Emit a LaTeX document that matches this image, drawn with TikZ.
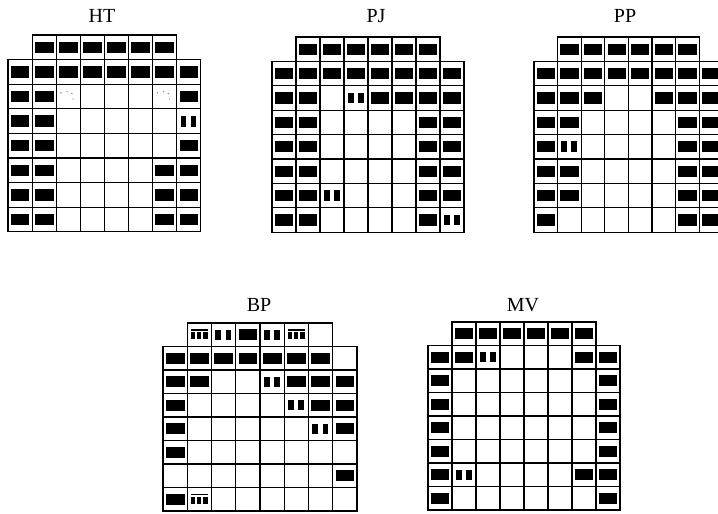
\documentclass[tikz,border=0pt]{standalone}
\usepackage{fontspec}
\setmainfont{Liberation Serif}
\tikzset{
  cellbox/.style={draw=black, line width=1.15pt},
  ink/.style={fill=black},
  faintink/.style={fill=black!45},
  paneltitle/.style={font=\fontsize{20}{20}\selectfont, inner sep=0pt, anchor=center}
}
% grid: 6 cells on top (columns 2..7), then 7 rows of 8 cells
\newcommand\gridcells{%
  \foreach \c in {2,...,7} \draw[cellbox] (\c-1,0) rectangle (\c,1);
  \foreach \r in {1,...,7} \foreach \c in {1,...,8} \draw[cellbox] (\c-1,\r) rectangle (\c,\r+1);
}
\newcommand\fullc[2]{\fill[ink] (#1-0.88,#2+0.27) rectangle (#1-0.11,#2+0.73);}
\newcommand\barsc[2]{\fill[ink] (#1-0.84,#2+0.28) rectangle (#1-0.60,#2+0.72);
  \fill[ink] (#1-0.42,#2+0.28) rectangle (#1-0.18,#2+0.72);}
\newcommand\texc[2]{\fill[ink] (#1-0.86,#2+0.26) rectangle (#1-0.14,#2+0.32);
  \fill[ink] (#1-0.86,#2+0.40) rectangle (#1-0.66,#2+0.70);
  \fill[ink] (#1-0.60,#2+0.40) rectangle (#1-0.42,#2+0.70);
  \fill[ink] (#1-0.36,#2+0.40) rectangle (#1-0.16,#2+0.70);}
\newcommand\faintc[2]{\fill[faintink] (#1-0.80,#2+0.35) circle (0.8pt);
  \fill[faintink] (#1-0.55,#2+0.30) circle (0.7pt);
  \fill[faintink] (#1-0.35,#2+0.38) circle (0.8pt);
  \fill[faintink] (#1-0.30,#2+0.60) circle (0.7pt);}
\begin{document}
\begin{tikzpicture}[x=1pt,y=-1pt]
\useasboundingbox (0,0) rectangle (718,514);
\clip (0,0) rectangle (718,514);
\fill[white] (0,0) rectangle (718,514);

% ---------- titles ----------
\node[paneltitle] (tHT) at (102,16) {HT};
\node[paneltitle] (tPJ) at (376,16) {PJ};
\node[paneltitle] (tPP) at (625,16) {PP};
\node[paneltitle] (tBP) at (259,305) {BP};
\node[paneltitle] (tMV) at (523,305) {MV};

% ---------- HT ----------
\begin{scope}[shift={(8pt,-35pt)}, x=24.1pt, y=-24.6pt]
  \gridcells
  \foreach \c in {2,...,7} {\fullc{\c}{0}}
  \foreach \c in {1,...,8} {\fullc{\c}{1}}
  \foreach \c/\r in {1/2,2/2,8/2, 1/3,2/3, 1/4,2/4,8/4,
                     1/5,2/5,7/5,8/5, 1/6,2/6,7/6,8/6, 1/7,2/7,7/7,8/7} {\fullc{\c}{\r}}
  \barsc{8}{3}
  \faintc{3}{2}
  \faintc{7}{2}
\end{scope}

% ---------- PJ ----------
\begin{scope}[shift={(272pt,-37pt)}, x=24pt, y=-24.4pt]
  \gridcells
  \foreach \c in {2,...,7} {\fullc{\c}{0}}
  \foreach \c in {1,...,8} {\fullc{\c}{1}}
  \foreach \c/\r in {1/2,2/2,5/2,6/2,7/2,8/2,
                     1/3,2/3,7/3,8/3, 1/4,2/4,7/4,8/4, 1/5,2/5,7/5,8/5,
                     1/6,2/6,7/6,8/6, 1/7,2/7,7/7} {\fullc{\c}{\r}}
  \barsc{4}{2}
  \barsc{3}{6}
  \barsc{8}{7}
\end{scope}

% ---------- PP ----------
\begin{scope}[shift={(534pt,-37pt)}, x=23.6pt, y=-24.4pt]
  \gridcells
  \foreach \c in {2,...,7} {\fullc{\c}{0}}
  \foreach \c in {1,...,8} {\fullc{\c}{1}}
  \foreach \c/\r in {1/2,2/2,3/2,6/2,7/2,8/2,
                     1/3,2/3,7/3,8/3, 1/4,7/4,8/4,
                     1/5,2/5,7/5,8/5, 1/6,2/6,7/6,8/6, 1/7,7/7,8/7} {\fullc{\c}{\r}}
  \barsc{2}{4}
\end{scope}

% ---------- BP ----------
\begin{scope}[shift={(163pt,-323pt)}, x=24.25pt, y=-23.5pt]
  \gridcells
  \fullc{4}{0}
  \foreach \c in {1,...,7} {\fullc{\c}{1}}
  \foreach \c/\r in {1/2,2/2,6/2,7/2,8/2, 1/3,7/3,8/3, 1/4,8/4, 1/5, 8/6, 1/7} {\fullc{\c}{\r}}
  \foreach \c/\r in {3/0,5/0,5/2,6/3,7/4} {\barsc{\c}{\r}}
  \foreach \c/\r in {2/0,6/0,2/7} {\texc{\c}{\r}}
\end{scope}

% ---------- MV ----------
\begin{scope}[shift={(428pt,-322pt)}, x=24pt, y=-23.5pt]
  \gridcells
  \foreach \c in {2,...,7} {\fullc{\c}{0}}
  \foreach \c/\r in {1/1,2/1,7/1,8/1, 1/2,8/2, 1/3,8/3, 1/4,8/4, 1/5,8/5,
                     1/6,7/6,8/6, 1/7,8/7} {\fullc{\c}{\r}}
  \barsc{3}{1}
  \barsc{2}{6}
\end{scope}
\end{tikzpicture}
\end{document}
